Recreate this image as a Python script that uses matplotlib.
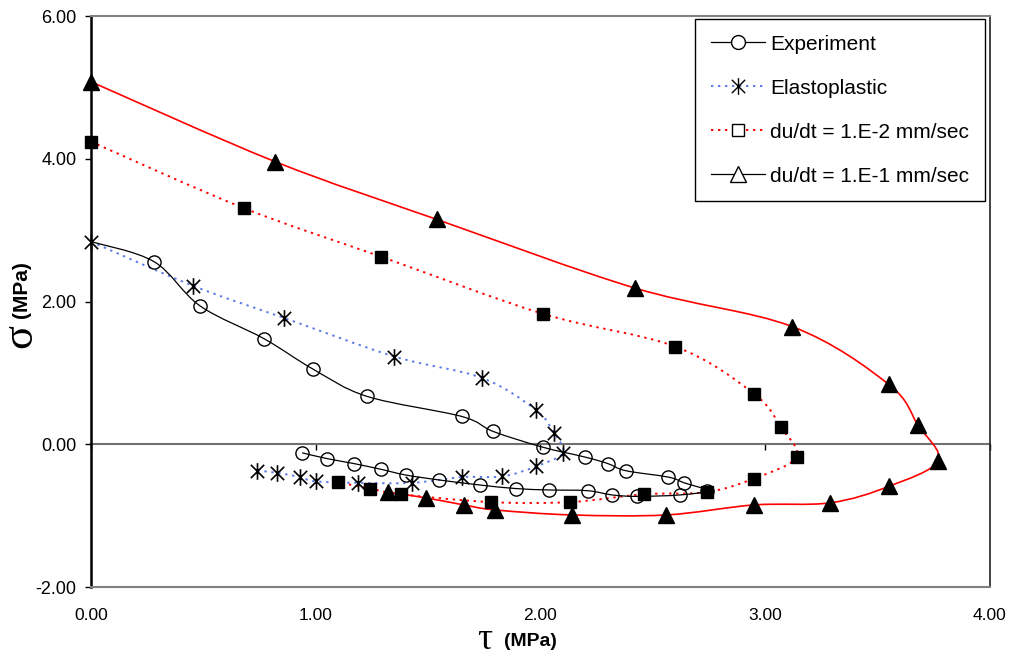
import matplotlib

matplotlib.use("Agg")
import matplotlib.pyplot as plt
import numpy as np
from matplotlib.lines import Line2D
from matplotlib.patches import PathPatch
from matplotlib.path import Path

plt.rcParams["font.family"] = ["Liberation Sans", "DejaVu Sans"]

# Experiment (first point has no marker)
exp_tau = [0.00, 0.28, 0.485, 0.77, 0.99, 1.23, 1.65, 1.79, 2.01, 2.20, 2.30, 2.38,
           2.57, 2.64, 2.74, 2.62, 2.43, 2.32, 2.21, 2.04, 1.89, 1.73, 1.55, 1.40,
           1.29, 1.17, 1.05, 0.94]
exp_sig = [2.84, 2.56, 1.94, 1.48, 1.05, 0.67, 0.39, 0.18, -0.04, -0.18, -0.27, -0.37,
           -0.46, -0.54, -0.65, -0.71, -0.73, -0.71, -0.65, -0.64, -0.62, -0.57, -0.50,
           -0.43, -0.35, -0.27, -0.20, -0.12]

# Elastoplastic
ep_tau = [0.00, 0.455, 0.86, 1.35, 1.74, 1.98, 2.06, 2.10, 1.98, 1.83, 1.65, 1.43,
          1.19, 1.00, 0.93, 0.83, 0.74]
ep_sig = [2.84, 2.22, 1.77, 1.23, 0.93, 0.48, 0.16, -0.12, -0.31, -0.45, -0.46, -0.54,
          -0.54, -0.52, -0.46, -0.40, -0.37]

# du/dt = 1.E-2 mm/sec
sq_tau = [0.00, 0.68, 1.29, 2.01, 2.60, 2.95, 3.07, 3.14, 2.95, 2.74, 2.46, 2.13,
          1.78, 1.38, 1.24, 1.10]
sq_sig = [4.24, 3.31, 2.63, 1.83, 1.37, 0.71, 0.24, -0.18, -0.48, -0.67, -0.70, -0.81,
          -0.81, -0.70, -0.62, -0.53]

# du/dt = 1.E-1 mm/sec
tr_tau = [0.00, 0.82, 1.54, 2.42, 3.12, 3.55, 3.68, 3.77, 3.55, 3.29, 2.95, 2.56,
          2.14, 1.80, 1.66, 1.49, 1.32]
tr_sig = [5.08, 3.96, 3.15, 2.19, 1.65, 0.84, 0.27, -0.23, -0.59, -0.82, -0.85, -0.99,
          -0.99, -0.92, -0.85, -0.75, -0.67]

labels = ["Experiment", "Elastoplastic", "du/dt = 1.E-2 mm/sec", "du/dt = 1.E-1 mm/sec"]
x_ticks = [0, 1, 2, 3, 4]
y_ticks = [-2, 0, 2, 4, 6]

BLUE = "#5a7be6"
RED = "#ff0000"
DOTS = (0, (1.2, 2.4))

# asterisk marker: vertical bar + X
STAR = Path(
    [(0, -1), (0, 1), (-0.8, -0.8), (0.8, 0.8), (-0.8, 0.8), (0.8, -0.8)],
    [Path.MOVETO, Path.LINETO, Path.MOVETO, Path.LINETO, Path.MOVETO, Path.LINETO],
)


def smooth_path(x, y):
    """Excel-like smoothed line through the points (cubic Bezier segments)."""
    pts = np.column_stack([x, y]).astype(float)
    n = len(pts)
    verts = [pts[0]]
    codes = [Path.MOVETO]
    for i in range(n - 1):
        p0 = pts[max(i - 1, 0)]
        p1 = pts[i]
        p2 = pts[i + 1]
        p3 = pts[min(i + 2, n - 1)]
        verts += [p1 + (p2 - p0) / 6, p2 - (p3 - p1) / 6, p2]
        codes += [Path.CURVE4] * 3
    return Path(verts, codes)


dpi = 100
fig = plt.figure(figsize=(10.11, 6.57), dpi=dpi)
ax = fig.add_axes([0.090, 0.1065, 0.889, 0.869])

ax.add_patch(PathPatch(smooth_path(tr_tau, tr_sig), fill=False, edgecolor=RED,
                       lw=1.2, zorder=2))
ax.add_patch(PathPatch(smooth_path(sq_tau, sq_sig), fill=False, edgecolor=RED,
                       lw=1.4, linestyle=DOTS, zorder=2))
ax.add_patch(PathPatch(smooth_path(ep_tau, ep_sig), fill=False, edgecolor=BLUE,
                       lw=1.4, linestyle=DOTS, zorder=2))
ax.add_patch(PathPatch(smooth_path(exp_tau, exp_sig), fill=False, edgecolor="black",
                       lw=0.9, zorder=3))

ax.plot(tr_tau, tr_sig, ls="none", marker="^", ms=11, mfc="black", mec="black",
        zorder=4, clip_on=False)
ax.plot(sq_tau, sq_sig, ls="none", marker="s", ms=8, mfc="black", mec="black",
        zorder=4, clip_on=False)
ax.plot(ep_tau, ep_sig, ls="none", marker=STAR, ms=12, mfc="none", mec="black",
        mew=1.2, zorder=5, clip_on=False)
ax.plot(exp_tau[1:], exp_sig[1:], ls="none", marker="o", ms=9.5, mfc="none",
        mec="black", mew=1.0, zorder=6)

ax.set_xlim(0, 4)
ax.set_ylim(-2, 6)
ax.set_xticks(x_ticks)
ax.set_xticklabels([f"{v:.2f}" for v in x_ticks])
ax.set_yticks(y_ticks)
ax.set_yticklabels([f"{v:.2f}" for v in y_ticks])
ax.tick_params(axis="x", length=0, pad=15, labelsize=12.5)
ax.tick_params(axis="y", direction="out", length=4.5, width=1.0, pad=6, labelsize=13)

ax.spines["left"].set_linewidth(1.8)
ax.spines["left"].set_color("black")
ax.spines["top"].set_color("#808080")
ax.spines["top"].set_linewidth(1.5)
ax.spines["bottom"].set_color("#808080")
ax.spines["bottom"].set_linewidth(1.5)
ax.spines["right"].set_color("#222222")
ax.spines["right"].set_linewidth(1.2)

# x axis crossing at sigma = 0 with tick marks, labels stay at the bottom
zero_axis = ax.secondary_xaxis(0.25)
zero_axis.set_xticks(x_ticks)
zero_axis.set_xticklabels([])
zero_axis.tick_params(direction="out", length=4, width=1.0, color="black")
zero_axis.spines["bottom"].set_color("#707070")
zero_axis.spines["bottom"].set_linewidth(1.5)

# axis titles: greek symbol larger than the unit
fig.text(0.020, 1 - 336 / 657, "σ", family=["Liberation Serif", "DejaVu Serif"],
         fontsize=32, rotation=90, ha="center", va="center")
fig.text(0.021, 1 - 290 / 657, "(MPa)", fontsize=15, fontweight="bold",
         rotation=90, ha="center", va="center")
fig.text(485 / 1011, 1 - 640 / 657, "τ", family=["Liberation Serif", "DejaVu Serif"],
         fontsize=27, ha="center", va="center")
fig.text(530 / 1011, 1 - 641 / 657, "(MPa)", fontsize=14, fontweight="bold",
         ha="center", va="center")

handles = [
    Line2D([], [], color="black", lw=0.9, marker="o", ms=10, mfc="white", mec="black"),
    Line2D([], [], color=BLUE, lw=1.4, ls=DOTS, marker=STAR, ms=12,
           mfc="none", mec="black"),
    Line2D([], [], color=RED, lw=1.4, ls=DOTS, marker="s", ms=8,
           mfc="white", mec="black"),
    Line2D([], [], color="black", lw=0.9, marker="^", ms=11, mfc="white", mec="black"),
]
leg = ax.legend(handles, labels, loc="upper right", bbox_to_anchor=(985 / 1011, 1 - 19 / 657),
                bbox_transform=fig.transFigure, borderaxespad=0, fontsize=15,
                handlelength=2.6, handletextpad=0.25, labelspacing=1.2,
                borderpad=0.75, fancybox=False, framealpha=1)
leg.get_frame().set_edgecolor("black")
leg.get_frame().set_linewidth(1.0)

fig.savefig("out.png", dpi=dpi)
plt.close(fig)
